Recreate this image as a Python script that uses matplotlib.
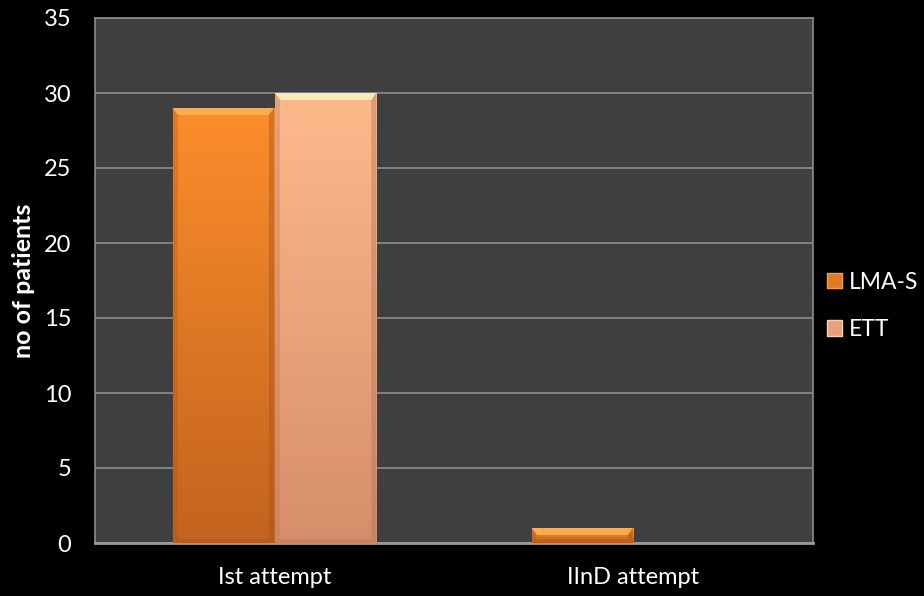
import numpy as np
import matplotlib
matplotlib.use("Agg")
import matplotlib.pyplot as plt
from matplotlib.patches import Polygon, Patch
from matplotlib.colors import LinearSegmentedColormap

categories = ["Ist attempt", "IInD attempt"]
series_names = ["LMA-S", "ETT"]
lma_s = [29, 1]
ett = [30, 0]
y_ticks = [0, 5, 10, 15, 20, 25, 30, 35]

# gradient colours (top, bottom) and bevel highlight per series
styles = {
    "LMA-S": dict(top="#fc8d2b", bottom="#c2631f", light="#fdb455", dark="#a9541a"),
    "ETT": dict(top="#feb98b", bottom="#d78e6b", light="#fff1c4", dark="#b8775a"),
}

plt.rcParams["font.family"] = ["Lato", "DejaVu Sans"]

fig = plt.figure(figsize=(9.24, 5.96), dpi=100, facecolor="black")
ax = fig.add_axes([95 / 924, 1 - 543 / 596, 718 / 924, 525 / 596])
ax.set_facecolor("#3f3f3f")

x = np.arange(len(categories))
w = 0.282
gap = 0.003
ax.set_xlim(-0.5, len(categories) - 0.5)
ax.set_ylim(0, 35)

# pixel -> data conversion factors for bevel sizes
px_x = (len(categories)) / 718.0
px_y = 35 / 525.0

for vals, name, off in [(lma_s, "LMA-S", -(w / 2 + gap / 2)), (ett, "ETT", (w / 2 + gap / 2))]:
    st = styles[name]
    bars = ax.bar(x + off, vals, width=w, color="none", edgecolor="none", zorder=3)
    cmap = LinearSegmentedColormap.from_list(name, [st["bottom"], st["top"]])
    for b in bars:
        x0, y0 = b.get_x(), b.get_y()
        bw, bh = b.get_width(), b.get_height()
        if bh <= 0:
            continue
        grad = np.linspace(0, 1, 256).reshape(-1, 1)
        ax.imshow(grad, extent=[x0, x0 + bw, y0, y0 + bh], origin="lower",
                  cmap=cmap, aspect="auto", zorder=3, interpolation="bilinear")
        bx = min(5 * px_x, bw / 2)
        by = min(7 * px_y, bh / 2)
        sx = min(4 * px_y, bh / 4)
        top = y0 + bh
        # top bevel (highlight)
        ax.add_patch(Polygon([(x0, top), (x0 + bw, top), (x0 + bw - bx, top - by), (x0 + bx, top - by)],
                             closed=True, facecolor=st["light"], edgecolor="none", alpha=0.85, zorder=4))
        # side and bottom bevels (shade)
        ax.add_patch(Polygon([(x0, top), (x0 + bx, top - by), (x0 + bx, y0 + sx), (x0, y0)],
                             closed=True, facecolor=st["dark"], edgecolor="none", alpha=0.35, zorder=4))
        ax.add_patch(Polygon([(x0 + bw, top), (x0 + bw - bx, top - by), (x0 + bw - bx, y0 + sx), (x0 + bw, y0)],
                             closed=True, facecolor=st["dark"], edgecolor="none", alpha=0.45, zorder=4))
        ax.add_patch(Polygon([(x0, y0), (x0 + bx, y0 + sx), (x0 + bw - bx, y0 + sx), (x0 + bw, y0)],
                             closed=True, facecolor=st["dark"], edgecolor="none", alpha=0.4, zorder=4))

ax.set_xlim(-0.5, len(categories) - 0.5)
ax.set_ylim(0, 35)
ax.set_yticks(y_ticks)
ax.set_xticks(x)
ax.set_xticklabels(categories)
ax.tick_params(colors="white", labelsize=17, length=0)
ax.tick_params(axis="y", pad=17)
ax.tick_params(axis="x", pad=17)
ax.yaxis.grid(True, color="#8c8c8c", linewidth=1.2, zorder=1)
ax.set_axisbelow(True)
for s in ax.spines.values():
    s.set_color("#8c8c8c")
    s.set_linewidth(1.2)
ax.spines["bottom"].set_linewidth(2)
ax.spines["bottom"].set_color("#9a9a9a")

ax.set_ylabel("no of patients", color="white", fontsize=18, fontweight="bold")
ax.yaxis.set_label_coords(-(95 - 35) / 718, 0.5)

handles = [Patch(facecolor="#e07a25", edgecolor="#f7a04a", label="LMA-S"),
           Patch(facecolor="#e8a07a", edgecolor="#fcd0a6", label="ETT")]
leg = fig.legend(handles=handles, loc="center left", bbox_to_anchor=(827 / 924, 1 - 306 / 596),
                 frameon=False, fontsize=16.5, labelcolor="white", handlelength=0.65,
                 handleheight=0.65, handletextpad=0.3, labelspacing=1.15,
                 borderpad=0, borderaxespad=0)

fig.savefig("out.png", dpi=100, facecolor="black")
